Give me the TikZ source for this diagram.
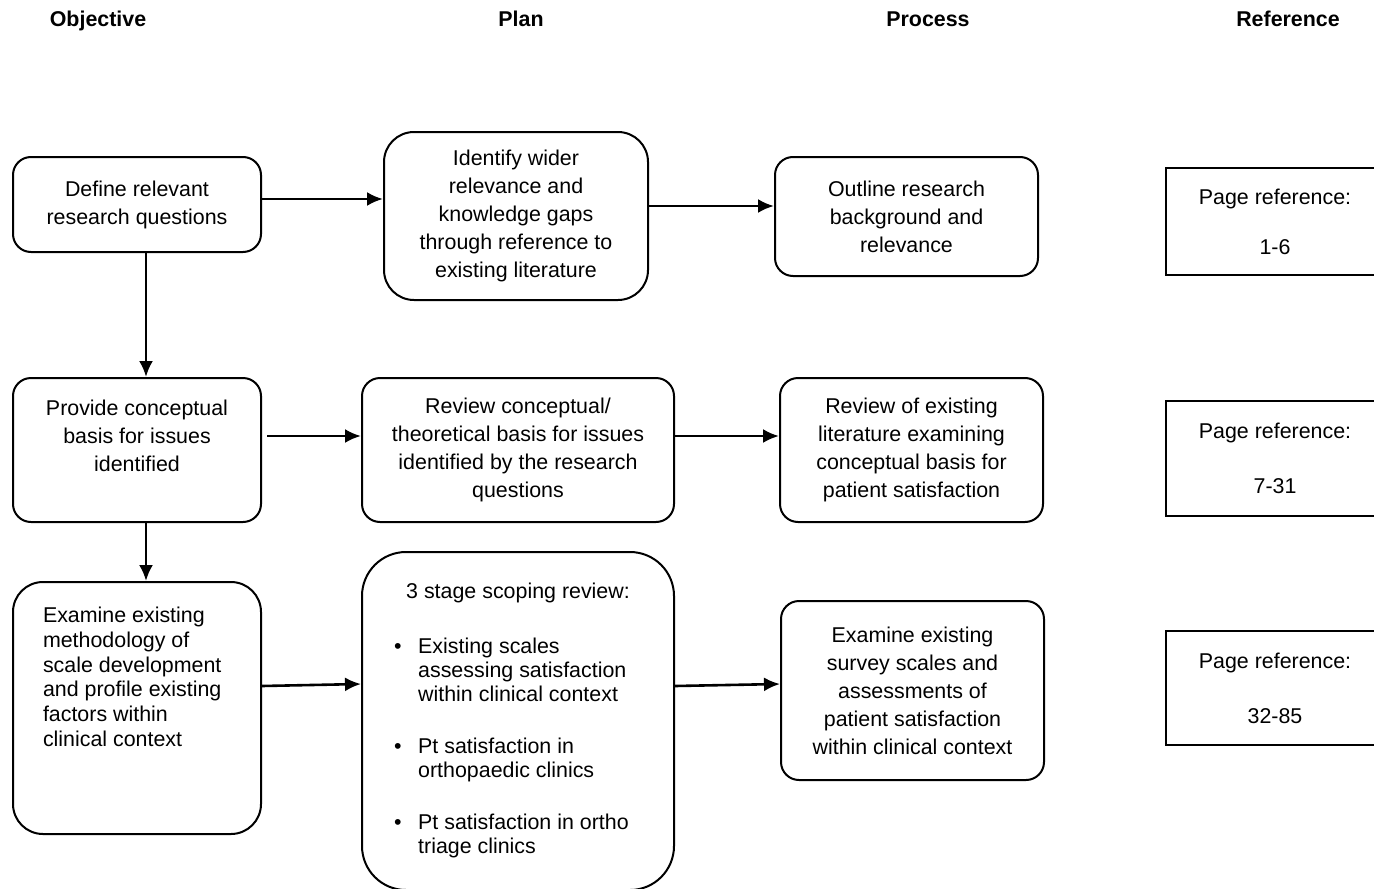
\documentclass[tikz,border=0pt]{standalone}
\usepackage{fontspec}
\setmainfont{Liberation Sans}
\usetikzlibrary{arrows.meta}

\begin{document}
\begin{tikzpicture}[x=0.5pt, y=-0.5pt,
    every node/.style={font=\fontsize{10.7}{14}\selectfont},
    head/.style={font=\fontsize{10.7}{14}\selectfont\bfseries, text height=8pt, text depth=2.5pt},
    stepbox/.style={draw, line width=1pt, rounded corners=9pt, align=center, inner sep=2pt},
    refbox/.style={draw, line width=1pt, align=center, minimum width=109pt},
    flow/.style={line width=1.3pt, -{Latex[length=8pt,width=7pt]}}]
    % Page size, as in the scan
    \useasboundingbox (0,0) rectangle (1374,888);

    % Column headings
    \node[head] (hobj) at (98,21) {Objective};
    \node[head] (hplan) at (521,21) {Plan};
    \node[head] (hproc) at (928,21) {Process};
    \node[head] (href) at (1288,21) {Reference};

    % Row 1 - research questions
    \node[stepbox, minimum width=124pt, minimum height=47.5pt]
      (define) at (137,204.5) {Define relevant\\research questions};
    \node[stepbox, rounded corners=15pt, minimum width=132pt, minimum height=84pt]
      (identify) at (516,216)
      {Identify wider\\relevance and\\knowledge gaps\\through reference to\\existing literature};
    \node[stepbox, minimum width=131.5pt, minimum height=59.5pt]
      (outline) at (906.5,216.5) {Outline research\\background and\\relevance};
    \node[refbox, minimum height=53.5pt]
      (ref1) at (1275,221.5) {Page reference:\\[11pt]1-6};

    % Row 2 - conceptual basis
    \node[stepbox, minimum width=124pt, minimum height=72pt]
      (provide) at (137,450) {Provide conceptual\\basis for issues\\identified\\\mbox{}};
    \node[stepbox, minimum width=156pt, minimum height=72pt]
      (review) at (518,450)
      {Review conceptual/\\theoretical basis for issues\\identified by the research\\questions};
    \node[stepbox, minimum width=131.5pt, minimum height=72pt]
      (reviewlit) at (911.5,450)
      {Review of existing\\literature examining\\conceptual basis for\\patient satisfaction};
    \node[refbox, minimum height=57.5pt]
      (ref2) at (1275,458.5) {Page reference:\\[13.5pt]7-31};

    % Row 3 - scale development
    \node[stepbox, rounded corners=15pt, minimum width=124pt, minimum height=126pt, inner sep=0pt]
      (examine) at (137,708)
      {\parbox[c][101pt][t]{94pt}{\raggedright\fontsize{10.7}{12.4}\selectfont
        Examine existing\\methodology of\\scale development\\and profile existing\\factors within\\clinical context}};
    \node[stepbox, rounded corners=22pt, minimum width=156pt, minimum height=169pt]
      (scoping) at (518,721)
      {\fontsize{10.7}{12}\selectfont
       \begin{tabular}{@{}p{12pt}@{}l@{}}
         \multicolumn{2}{c}{3 stage scoping review:}\\[15.5pt]
         \textbullet & Existing scales\\
                     & assessing satisfaction\\
                     & within clinical context\\[14pt]
         \textbullet & Pt satisfaction in\\
                     & orthopaedic clinics\\[14pt]
         \textbullet & Pt satisfaction in ortho\\
                     & triage clinics
       \end{tabular}};
    \node[stepbox, minimum width=131.5pt, minimum height=89.5pt]
      (survey) at (912.5,690.5)
      {Examine existing\\survey scales and\\assessments of\\patient satisfaction\\within clinical context};
    \node[refbox, minimum height=57pt]
      (ref3) at (1275,688) {Page reference:\\[13.5pt]32-85};

    % Connectors
    \draw[flow] (define.east |- 0,199) -- (identify.west |- 0,199);
    \draw[flow] (identify.east |- 0,206) -- (outline.west |- 0,206);
    \draw[flow] (define.south -| 146,0) -- (provide.north -| 146,0);
    \draw[flow] ([xshift=2.5pt]provide.east |- 0,436) -- (review.west |- 0,436);
    \draw[flow] (review.east |- 0,436) -- (reviewlit.west |- 0,436);
    \draw[flow] (provide.south -| 146,0) -- (examine.north -| 146,0);
    \draw[flow] (examine.east |- 0,686) -- (scoping.west |- 0,684);
    \draw[flow] (scoping.east |- 0,686) -- (survey.west |- 0,684);
  \end{tikzpicture}
\end{document}
